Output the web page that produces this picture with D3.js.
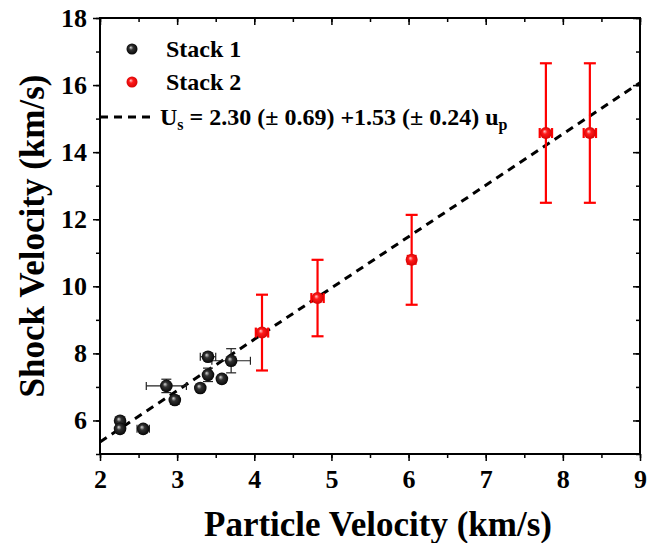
<!DOCTYPE html>
<html>
<head>
<meta charset="utf-8">
<script src="https://cdn.jsdelivr.net/npm/d3@7"></script>
<style>
  body { margin: 0; background: #fff; }
  text { font-family: "Liberation Serif", "Times New Roman", serif; font-weight: bold; }
</style>
</head>
<body>
<div id="chart"></div>
<script>
// data
const stack1X = [2.26, 2.26, 2.56, 2.86, 2.97, 3.30, 3.40, 3.40, 3.58, 3.70];
const stack1Y = [5.99, 5.75, 5.75, 7.03, 6.61, 6.97, 7.36, 7.90, 7.24, 7.78];
const stack1XErr = [0, 0, 0.08, 0.26, 0, 0, 0, 0.10, 0.05, 0.25];
const stack1YErr = [0.08, 0, 0, 0.20, 0.12, 0.08, 0.20, 0.08, 0.10, 0.36];

const stack2X = [4.10, 4.82, 6.04, 7.78, 8.35];
const stack2Y = [8.62, 9.65, 10.79, 14.57, 14.57];
const stack2XErr = [0.08, 0.08, 0.05, 0.08, 0.08];
const stack2YErr = [1.13, 1.14, 1.34, 2.08, 2.08];

const fitIntercept = 2.30;
const fitSlope = 1.53;

const xTicks = [2, 3, 4, 5, 6, 7, 8, 9];
const yTicks = [6, 8, 10, 12, 14, 16, 18];

const width = 647, height = 543;
const margin = {left: 100, right: 7, top: 18, bottom: 89};

const x = d3.scaleLinear().domain([2, 9]).range([margin.left, width - margin.right]);
const y = d3.scaleLinear().domain([5, 18]).range([height - margin.bottom, margin.top]);

const svg = d3.select("#chart").append("svg")
    .attr("width", width)
    .attr("height", height);

// sphere gradients
const defs = svg.append("defs");
function ballGrad(id, hi, mid, dark) {
    const g = defs.append("radialGradient")
        .attr("id", id)
        .attr("cx", "50%").attr("cy", "50%").attr("r", "55%")
        .attr("fx", "38%").attr("fy", "35%");
    g.append("stop").attr("offset", "0%").attr("stop-color", hi);
    g.append("stop").attr("offset", "35%").attr("stop-color", mid);
    g.append("stop").attr("offset", "100%").attr("stop-color", dark);
}
ballGrad("gBlack", "#d8d8d8", "#333", "#000");
ballGrad("gRed", "#ffd0d0", "#ff1a1a", "#d00000");

const stack1 = stack1X.map((v, i) => ({x: v, y: stack1Y[i], ex: stack1XErr[i], ey: stack1YErr[i]}));
const stack2 = stack2X.map((v, i) => ({x: v, y: stack2Y[i], ex: stack2XErr[i], ey: stack2YErr[i]}));

///
/// AXES
///

const plotW = width - margin.left - margin.right;
const plotH = height - margin.top - margin.bottom;

const xMinor = d3.range(2, 9.01, 0.5);
const yMinor = d3.range(5, 18.01, 1);

// bottom: outward ticks
svg.append("g")
    .attr("transform", `translate(0,${y(5)})`)
    .call(d3.axisBottom(x).tickValues(xMinor).tickSize(4).tickFormat(""))
    .call(g => g.select(".domain").remove());
svg.append("g")
    .attr("transform", `translate(0,${y(5)})`)
    .call(d3.axisBottom(x).tickValues(xTicks).tickSize(7).tickPadding(9).tickFormat(d3.format("d")))
    .call(g => g.select(".domain").remove())
    .call(g => g.selectAll("text").attr("font-size", 26).attr("fill", "#000"));

// left: outward ticks
svg.append("g")
    .attr("transform", `translate(${x(2)},0)`)
    .call(d3.axisLeft(y).tickValues(yMinor).tickSize(4).tickFormat(""))
    .call(g => g.select(".domain").remove());
svg.append("g")
    .attr("transform", `translate(${x(2)},0)`)
    .call(d3.axisLeft(y).tickValues(yTicks).tickSize(7).tickPadding(6).tickFormat(d3.format("d")))
    .call(g => g.select(".domain").remove())
    .call(g => g.selectAll("text").attr("font-size", 26).attr("fill", "#000"));

// top: inward ticks
svg.append("g")
    .attr("transform", `translate(0,${y(18)})`)
    .call(d3.axisBottom(x).tickValues(xMinor).tickSize(4).tickFormat(""))
    .call(g => g.select(".domain").remove());
svg.append("g")
    .attr("transform", `translate(0,${y(18)})`)
    .call(d3.axisBottom(x).tickValues(xTicks).tickSize(7).tickFormat(""))
    .call(g => g.select(".domain").remove());

// right: inward ticks
svg.append("g")
    .attr("transform", `translate(${x(9)},0)`)
    .call(d3.axisLeft(y).tickValues(yMinor).tickSize(4).tickFormat(""))
    .call(g => g.select(".domain").remove());
svg.append("g")
    .attr("transform", `translate(${x(9)},0)`)
    .call(d3.axisLeft(y).tickValues(yTicks).tickSize(7).tickFormat(""))
    .call(g => g.select(".domain").remove());

svg.selectAll(".tick line").attr("stroke", "#000").attr("stroke-width", 1.5);

// frame
svg.append("rect")
    .attr("x", x(2)).attr("y", y(18))
    .attr("width", plotW).attr("height", plotH)
    .attr("fill", "none")
    .attr("stroke", "#000")
    .attr("stroke-width", 2);

// axis titles
svg.append("text")
    .attr("x", (x(2) + x(9)) / 2 + 8)
    .attr("y", 536)
    .attr("text-anchor", "middle")
    .attr("font-size", 35)
    .text("Particle Velocity (km/s)");

svg.append("text")
    .attr("transform", `translate(44,${(y(5) + y(18)) / 2}) rotate(-90)`)
    .attr("text-anchor", "middle")
    .attr("font-size", 35)
    .text("Shock Velocity (km/s)");

///
/// FIT LINE
///

const plot = svg.append("g");

plot.append("line")
    .attr("x1", x(2)).attr("y1", y(fitIntercept + fitSlope * 2))
    .attr("x2", x(9)).attr("y2", y(fitIntercept + fitSlope * 9))
    .attr("stroke", "#000")
    .attr("stroke-width", 3)
    .attr("stroke-dasharray", "8,6");

///
/// ERROR BARS + POINTS
///

function drawSeries(data, color, lw, capW, grad, r) {
    const g = plot.append("g");
    data.forEach(d => {
        if (d.ey > 0) {
            g.append("line")
                .attr("x1", x(d.x)).attr("x2", x(d.x))
                .attr("y1", y(d.y - d.ey)).attr("y2", y(d.y + d.ey))
                .attr("stroke", color).attr("stroke-width", lw);
            [d.y - d.ey, d.y + d.ey].forEach(v => {
                g.append("line")
                    .attr("x1", x(d.x) - capW / 2).attr("x2", x(d.x) + capW / 2)
                    .attr("y1", y(v)).attr("y2", y(v))
                    .attr("stroke", color).attr("stroke-width", lw);
            });
        }
        if (d.ex > 0) {
            g.append("line")
                .attr("x1", x(d.x - d.ex)).attr("x2", x(d.x + d.ex))
                .attr("y1", y(d.y)).attr("y2", y(d.y))
                .attr("stroke", color).attr("stroke-width", lw);
            [d.x - d.ex, d.x + d.ex].forEach(v => {
                g.append("line")
                    .attr("x1", x(v)).attr("x2", x(v))
                    .attr("y1", y(d.y) - capW / 2 + 1).attr("y2", y(d.y) + capW / 2 - 1)
                    .attr("stroke", color).attr("stroke-width", lw);
            });
        }
    });
    g.selectAll("circle")
        .data(data)
        .join("circle")
        .attr("cx", d => x(d.x))
        .attr("cy", d => y(d.y))
        .attr("r", r)
        .attr("fill", `url(#${grad})`);
}

drawSeries(stack1, "#222", 1.2, 10, "gBlack", 6.3);
drawSeries(stack2, "#ff0000", 2.2, 12, "gRed", 6);

///
/// LEGEND
///

const legend = svg.append("g");
legend.append("circle").attr("cx", 132).attr("cy", 49).attr("r", 5.5).attr("fill", "url(#gBlack)");
legend.append("text").attr("x", 166).attr("y", 57).attr("font-size", 24).text("Stack 1");
legend.append("circle").attr("cx", 132).attr("cy", 82).attr("r", 5.5).attr("fill", "url(#gRed)");
legend.append("text").attr("x", 166).attr("y", 90).attr("font-size", 24).text("Stack 2");

legend.append("line")
    .attr("x1", 100).attr("x2", 155)
    .attr("y1", 117).attr("y2", 117)
    .attr("stroke", "#000").attr("stroke-width", 3)
    .attr("stroke-dasharray", "8,6");

const eq = legend.append("text").attr("x", 160).attr("y", 125).attr("font-size", 24);
eq.append("tspan").text("U");
eq.append("tspan").attr("font-size", 16).attr("dy", 5).text("s");
eq.append("tspan").attr("dy", -5).text(" = 2.30 (± 0.69) +1.53 (± 0.24) u");
eq.append("tspan").attr("font-size", 16).attr("dy", 5).text("p");
</script>
</body>
</html>
